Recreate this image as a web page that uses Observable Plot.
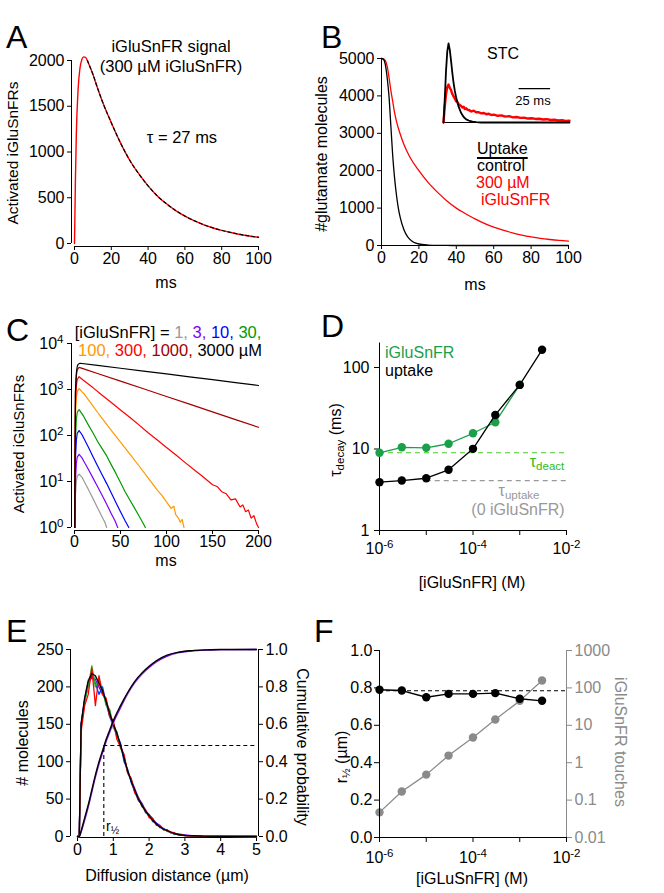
<!DOCTYPE html>
<html><head><meta charset="utf-8">
<script src="https://cdn.jsdelivr.net/npm/d3@7"></script>
<script src="https://cdn.jsdelivr.net/npm/@observablehq/plot@0.6"></script>
<style>
body{margin:0;background:#fff;}
#fig{position:relative;width:664px;height:893px;font-family:"Liberation Sans",Arial,Helvetica,sans-serif;color:#000;overflow:hidden;background:#fff}
#fig svg{position:absolute;overflow:visible}
.t{position:absolute;white-space:nowrap;line-height:1;}
.t sub{font-size:0.72em;vertical-align:-0.3em;line-height:0}
</style></head><body><div id="fig"></div>
<script>
// ---------- Panel A ----------
const aTime   = [0,0.5,1,2,3,4,5,6,7,8,10,12,15,20,25,30,35,40,45,50,55,60,65,70,75,80,85,90,95,100];
const aSignal = [0,700,1200,1700,1920,2010,2040,2035,2000,1950,1850,1730,1560,1320,1100,910,760,630,520,434,360,300,250,207,172,143,120,99,82,68];
const aFitTime = [7,8,10,12,15,20,25,30,35,40,45,50,55,60,65,70,75,80,85,90,95,100];
const aFit     = [2000,1950,1850,1730,1560,1320,1100,910,760,630,520,434,360,300,250,207,172,143,120,99,82,68];
const aXTicks = [0,20,40,60,80,100];
const aYTicks = [0,500,1000,1500,2000];

// ---------- Panel B ----------
const bCtrlTime = [0,1,2,3,4,5,6,7,8,9,10,12,14,16,18,20,25,30,35,40,50,60,70,80,90,100];
const bControl  = [5000,4980,4850,4500,4000,3200,2400,1800,1350,1000,750,420,230,130,70,40,12,3,1,0,0,0,0,0,0,0];
const bIgluTime = [0,1,2,3,4,5,6,7,8,10,12,15,20,25,30,35,40,45,50,55,60,65,70,75,80,85,90,95,100];
const bIglu     = [5000,4990,4950,4800,4500,4150,3850,3550,3320,2980,2700,2380,2000,1680,1420,1190,1000,850,710,590,490,410,340,280,230,190,160,135,115];
const bXTicks = [0,20,40,60,80,100];
const bYTicks = [0,1000,2000,3000,4000,5000];
// inset STC (normalised)
const stcCtrlTime = [0,1,2,3,4,5,6,7,8,9,10,12,14,16,18,20,23,26,30,100];
const stcControl  = [0,0.3,0.65,0.9,1.0,0.92,0.78,0.63,0.5,0.4,0.32,0.2,0.12,0.07,0.04,0.025,0.012,0.005,0,0];
const stcIgluTime = [0,1,2,3,4,5,6,7,8,9,10,11,12,13,14,15,16,17,18,19,20,22,24,26,28,30,32,34,36,38,40,43,46,49,52,55,58,61,64,67,70,73,76,79,82,85,88,91,94,97,100];
const stcIglu     = [0,0.2,0.36,0.45,0.48,0.44,0.41,0.36,0.33,0.30,0.27,0.26,0.23,0.22,0.21,0.19,0.20,0.17,0.18,0.16,0.16,0.14,0.15,0.13,0.13,0.115,0.12,0.105,0.11,0.095,0.1,0.085,0.09,0.075,0.08,0.065,0.07,0.058,0.062,0.05,0.054,0.045,0.048,0.038,0.042,0.032,0.035,0.026,0.028,0.02,0.022];
const stcScaleBar = {start: 60, length: 25, level: 0.43}; // 25 ms

// ---------- Panel C ----------
const c1t = [0.3,1,2,3,5,8,10,15,20,25,30,33,35];
const c1v = [1,5,10,13,14.5,12.5,10.5,6.8,4.3,2.7,1.7,1.3,1.0];
const c3t = [0.3,1,2,3,5,8,10,15,20,25,30,35,40,44,47];
const c3v = [1,10,25,34,39,33,28,18.5,12,7.8,5.0,3.2,2.0,1.4,1.0];
const c10t = [0.3,1,2,3,5,8,10,15,20,25,30,35,40,45,50,55,59];
const c10v = [1,30,80,112,128,105,88,56,35,22,14,9,5.6,3.5,2.2,1.4,1.0];
const c30t = [0.3,1,2,3,5,8,10,15,20,25,30,35,40,45,50,55,60,65,70,74,77];
const c30v = [1,80,230,320,365,300,260,170,115,75,52,36,23,15,9.5,6,4,2.7,1.8,1.3,1.0];
const c100t = [0.3,1,2,3,5,8,10,15,20,25,30,40,50,60,70,80,90,95,100,105,108,110,113,115,117,119];
const c100v = [1,250,650,900,1050,900,820,600,440,320,235,130,72,40,22,12,6.5,5,3.6,2.6,2.9,1.9,1.6,1.3,1.5,1.0];
const c300t = [0.3,1,2,3,5,10,20,30,40,50,60,70,80,90,100,110,120,130,140,150,155,160,165,170,175,180,183,186,189,192,195,198,200];
const c300v = [1,450,1200,1650,1900,1570,1100,750,520,360,250,170,115,80,55,38,26,18,12.5,8.5,7.8,6,5.4,4,4.2,2.8,3.1,2.2,2.4,1.6,1.8,1.2,1.0];
const c1000t = [0.3,1,2,3,5,10,25,50,75,100,125,150,175,200];
const c1000v = [1,800,2000,2700,3030,2800,2230,1520,1040,705,480,327,222,151];
const c3000t = [0.3,1,2,3,4,6,25,50,75,100,125,150,175,200];
const c3000v = [1,900,2300,3200,3550,3720,3340,2900,2510,2180,1890,1640,1410,1220];
const cXTicks = [0,50,100,150,200];
const cYTicks = [1,10,100,1000,10000];

// ---------- Panel D ----------
const dConc     = [1e-6,3e-6,1e-5,3e-5,1e-4,3e-4,1e-3,3e-3];
const dUptake   = [3.92,4.10,4.38,5.56,10.05,26.2,61.2,165];
const dConcIglu = [1e-6,3e-6,1e-5,3e-5,1e-4,3e-4,1e-3];
const dIglu     = [8.98,10.5,10.35,11.6,15.6,21.3,61.4];
const dTauDeact = 9.0;
const dTauUptake = 4.1;
const dXTicks = [1e-6,1e-5,1e-4,1e-3,1e-2];
const dYTicks = [1,10,100];

// ---------- Panel E ----------
const eX      = [0,0.05,0.1,0.2,0.3,0.4,0.5,0.6,0.7,0.8,0.9,1.0,1.1,1.2,1.3,1.4,1.5,1.6,1.7,1.8,1.9,2.0,2.1,2.2,2.3,2.4,2.5,2.6,2.7,2.8,2.9,3.0,3.2,3.5,4.0,4.5,5.0];
const eGray   = [0,0,152,186,210,216,212,207,192,182,168,150,140,122,106,88,76,63,50,45,33,30,22,17,14,10,8,6,4,3,2,1.5,1,0.5,0.3,0.2,0];
const ePurple = [0,0,150,183,206,212,210,200,190,182,162,152,136,124,104,86,75,64,52,44,35,29,24,18,15,10,9,6,5,3,2,2,1,0.5,0.3,0.2,0];
const eBlue   = [0,0,148,182,205,215,205,190,200,178,160,148,135,125,100,90,72,60,48,43,32,28,20,18,12,11,7,6,3,3,1.5,1.5,0.5,0.5,0.3,0,0];
const eGreen  = [0,0,145,180,200,228,200,210,195,175,170,145,140,118,108,85,76,60,52,40,35,27,23,16,14,9,8,5,4,3,2,1,1,0.5,0.2,0.2,0];
const eRed    = [0,0,140,175,190,225,175,215,190,185,160,155,130,120,110,85,78,58,52,40,36,25,24,15,14,9,9,5,5,2,3,1,1,0.5,0.5,0,0];
const eBlack  = [0,0,150,185,208,218,215,205,195,180,165,150,138,122,105,88,74,62,50,42,34,28,22,17,13,10,8,6,4,3,2,1.5,1,0.5,0.3,0.2,0];
const eCdfX      = [0,0.05,0.1,0.2,0.3,0.4,0.5,0.6,0.7,0.8,0.9,1.0,1.2,1.4,1.6,1.8,2.0,2.2,2.5,2.8,3.2,3.6,4,5];
const eCdfGray   = [0,0,0.022,0.085,0.155,0.235,0.315,0.385,0.445,0.505,0.555,0.605,0.685,0.76,0.82,0.866,0.902,0.932,0.963,0.981,0.992,0.997,0.999,1];
const eCdfPurple = [0,0,0.025,0.09,0.16,0.24,0.32,0.39,0.45,0.51,0.56,0.61,0.69,0.765,0.825,0.87,0.905,0.935,0.965,0.983,0.993,0.997,0.999,1];
const eCdfBlack  = [0,0,0.03,0.10,0.17,0.25,0.33,0.40,0.46,0.52,0.57,0.62,0.70,0.77,0.83,0.875,0.91,0.94,0.97,0.985,0.994,0.998,1,1];
const eRHalf = 0.735, eHalfP = 0.487;
const eXTicks = [0,1,2,3,4,5];
const eYTicks = [0,50,100,150,200,250];
const eY2Ticks = [0,0.2,0.4,0.6,0.8,1.0];

// ---------- Panel F ----------
const fConc    = [1e-6,3e-6,1e-5,3e-5,1e-4,3e-4,1e-3,3e-3];
const fRHalf   = [0.790,0.786,0.750,0.768,0.768,0.772,0.742,0.731];
const fTouches = [0.047,0.17,0.48,1.55,4.7,14.3,45,158];
const fRef = 0.785;
const fXTicks = [1e-6,1e-5,1e-4,1e-3,1e-2];
const fYTicks = [0,0.2,0.4,0.6,0.8,1.0];
const fY2Ticks = [0.01,0.1,1,10,100,1000];

// ================= drawing =================
const FONT = '"Liberation Sans", Arial, Helvetica, sans-serif';
const fig = document.getElementById("fig");
const zip = (xs, ys) => xs.map((x, i) => ({x, y: ys[i]}));
const SVGNS = "http://www.w3.org/2000/svg";
const plain = d => String(d);
function supers(svg) {
  svg.querySelectorAll("text").forEach(t => {
    const m = /^10\^(-?\d+)$/.exec(t.textContent);
    if (m) {
      t.textContent = "10";
      const ts = document.createElementNS(SVGNS, "tspan");
      ts.setAttribute("dy", "-0.5em");
      ts.setAttribute("font-size", "0.72em");
      ts.textContent = m[1];
      t.appendChild(ts);
    }
  });
}
function place(svg, left, top) {
  svg.style.left = left + "px"; svg.style.top = top + "px";
  fig.appendChild(svg); supers(svg);
}
function base(w, h, [mL, mR, mT, mB]) {
  return {width: w, height: h, marginLeft: mL, marginRight: mR, marginTop: mT, marginBottom: mB,
    style: {fontFamily: FONT, fontSize: "16px", background: "transparent", color: "#000", overflow: "visible"}};
}
function txt(html, x, y, {size = 16, color = "#000", anchor = "middle", rotate = 0} = {}) {
  const d = document.createElement("div");
  d.className = "t"; d.innerHTML = html;
  d.style.left = x + "px"; d.style.top = y + "px";
  d.style.fontSize = size + "px"; d.style.color = color;
  const tx = anchor === "middle" ? "-50%" : anchor === "end" ? "-100%" : "0";
  d.style.transform = `translate(${tx},-50%)` + (rotate ? ` rotate(${rotate}deg)` : "");
  fig.appendChild(d);
  return d;
}
const pow10 = d => `10^${Math.round(Math.log10(d))}`;
const evenPow = d => { const e = Math.round(Math.log10(d)); return e % 2 === 0 ? `10^${e}` : ""; };

// ---- A ----
place(Plot.plot({...base(332, 300, [74, 74, 60, 57]),
  x: {domain: [0, 100]}, y: {domain: [0, 2000]},
  marks: [
    Plot.ruleX([0], {y1: 0, y2: 2000, dx: -3}),
    Plot.ruleY([0], {x1: 0, x2: 100, dy: 3}),
    Plot.axisY({ticks: aYTicks, tickFormat: plain, tickSize: 4, tickPadding: 3, dx: -3, label: null}),
    Plot.axisX({ticks: aXTicks, tickFormat: plain, tickSize: 4, tickPadding: 2, dy: 3, label: null}),
    Plot.line(zip(aTime, aSignal), {x: "x", y: "y", stroke: "#ff0000", strokeWidth: 1.4, curve: "monotone-x"}),
    Plot.line(zip(aFitTime, aFit), {x: "x", y: "y", stroke: "#000", strokeWidth: 1.2, strokeDasharray: "3,3", curve: "monotone-x"})
  ]}), 0, 0);
txt("A", 6, 37, {size: 32, anchor: "start"});
txt("iGluSnFR signal", 171, 46, {size: 16.5});
txt("(300 µM iGluSnFR)", 171, 66, {size: 16.5});
txt("τ = 27 ms", 182, 137, {size: 16.5});
txt("Activated iGluSnFRs", 13, 153, {size: 15.5, rotate: -90});
txt("ms", 166, 283, {size: 16});

// ---- B ----
place(Plot.plot({...base(332, 300, [49, 96, 58, 55]),
  x: {domain: [0, 100]}, y: {domain: [0, 5000]},
  marks: [
    Plot.ruleX([0], {y1: 0, y2: 5000}),
    Plot.ruleY([0], {x1: 0, x2: 100}),
    Plot.axisY({ticks: bYTicks, tickFormat: plain, tickSize: 4, tickPadding: 3, label: null}),
    Plot.axisX({ticks: bXTicks, tickFormat: plain, tickSize: 4, tickPadding: 2, label: null}),
    Plot.line(zip(bIgluTime, bIglu), {x: "x", y: "y", stroke: "#ff0000", strokeWidth: 1.3, curve: "monotone-x"}),
    Plot.line(zip(bCtrlTime, bControl), {x: "x", y: "y", stroke: "#000", strokeWidth: 1.3, curve: "monotone-x"})
  ]}), 332, 0);
place(Plot.plot({...base(140, 100, [3, 11, 13, 8]),
  x: {domain: [0, 100], axis: null}, y: {domain: [0, 1], axis: null},
  marks: [
    Plot.ruleY([0], {x1: 0, x2: 100, strokeWidth: 1}),
    Plot.line(zip(stcIgluTime, stcIglu), {x: "x", y: "y", stroke: "#ff0000", strokeWidth: 2.4}),
    Plot.line(zip(stcCtrlTime, stcControl), {x: "x", y: "y", stroke: "#000", strokeWidth: 1.8}),
    Plot.ruleY([stcScaleBar], {y: "level", x1: "start", x2: d => d.start + d.length, strokeWidth: 1.3})
  ]}), 440, 30);
txt("B", 321, 37, {size: 32, anchor: "start"});
txt("STC", 503, 54, {size: 16});
txt("25 ms", 533, 100, {size: 13});
const up = txt("Uptake", 477, 149, {size: 16, anchor: "start"});
up.style.textDecoration = "underline"; up.style.textDecorationThickness = "1.5px"; up.style.textUnderlineOffset = "3px";
txt("control", 477, 166, {size: 16, anchor: "start"});
txt("300 µM", 476, 183, {size: 16, anchor: "start", color: "#ff0000"});
txt("iGluSnFR", 481, 200, {size: 16, anchor: "start", color: "#ff0000"});
txt("#glutamate molecules", 322, 154, {size: 16, rotate: -90});
txt("ms", 475, 285, {size: 16});

// ---- C ----
const cSeries = [
  [c1t, c1v, "#999999"], [c3t, c3v, "#8000ff"], [c10t, c10v, "#0000ff"], [c30t, c30v, "#009900"],
  [c100t, c100v, "#ff9900"], [c300t, c300v, "#ff0000"], [c1000t, c1000v, "#a00000"], [c3000t, c3000v, "#000000"]
];
place(Plot.plot({...base(332, 300, [74, 74, 43, 73]),
  x: {domain: [0, 200]}, y: {type: "log", domain: [1, 10000]},
  marks: [
    Plot.ruleX([0], {y1: 1, y2: 10000, dx: -3}),
    Plot.ruleY([1], {x1: 0, x2: 200, dy: 3}),
    Plot.axisY({ticks: cYTicks, tickFormat: pow10, tickSize: 4, tickPadding: 4, dx: -3, label: null}),
    Plot.axisX({ticks: cXTicks, tickFormat: plain, tickSize: 4, tickPadding: 1, dy: 3, label: null}),
    ...cSeries.map(([t, v, c]) => Plot.line(zip(t, v), {x: "x", y: "y", stroke: c, strokeWidth: 1.2}))
  ]}), 0, 300);
txt("C", 6, 330, {size: 32, anchor: "start"});
txt('[iGluSnFR] = <span style="color:#999">1,</span> <span style="color:#8000ff">3,</span> <span style="color:#0000ff">10,</span> <span style="color:#009900">30,</span>', 168, 332, {size: 16.5});
txt('<span style="color:#ff9900">100,</span> <span style="color:#ff0000">300,</span> <span style="color:#a00000">1000,</span> 3000 µM', 170, 350, {size: 16.5});
txt("Activated iGluSnFRs", 18, 444, {size: 15, rotate: -90});
txt("ms", 166, 561, {size: 16});

// ---- D ----
place(Plot.plot({...base(332, 300, [47, 98, 42.5, 70]),
  x: {type: "log", domain: [1e-6, 1e-2]}, y: {type: "log", domain: [1, 200]},
  marks: [
    Plot.ruleX([1e-6], {y1: 1, y2: 200}),
    Plot.ruleY([1], {x1: 1e-6, x2: 1e-2}),
    Plot.axisY({ticks: dYTicks, tickFormat: plain, tickSize: 5, tickPadding: 5, label: null}),
    Plot.axisX({ticks: dXTicks, tickFormat: evenPow, tickSize: 5, tickPadding: 7, label: null}),
    Plot.ruleY([dTauDeact], {x1: 1e-6, x2: 1e-2, stroke: "#44cc22", strokeDasharray: "5,4", strokeWidth: 1.2}),
    Plot.ruleY([dTauUptake], {x1: 1e-5, x2: 1e-2, stroke: "#999", strokeDasharray: "5,4", strokeWidth: 1.2}),
    Plot.line(zip(dConcIglu, dIglu), {x: "x", y: "y", stroke: "#1a9f4a", strokeWidth: 1.3}),
    Plot.dot(zip(dConcIglu, dIglu), {x: "x", y: "y", fill: "#1a9f4a", r: 4.2}),
    Plot.line(zip(dConc, dUptake), {x: "x", y: "y", stroke: "#000", strokeWidth: 1.3}),
    Plot.dot(zip(dConc, dUptake), {x: "x", y: "y", fill: "#000", r: 4.2})
  ]}), 332, 300);
txt("D", 321, 326, {size: 32, anchor: "start"});
txt("iGluSnFR", 385, 353, {size: 16, anchor: "start", color: "#1a9f4a"});
txt("uptake", 385, 371, {size: 16, anchor: "start"});
txt("τ<sub>deact</sub>", 547, 462, {size: 16, color: "#33bb22"});
txt("τ<sub>uptake</sub>", 519, 491, {size: 16, color: "#999"});
txt("(0 iGluSnFR)", 518, 510, {size: 16, color: "#999"});
txt("τ<sub>decay</sub> (ms)", 336, 440, {size: 16, rotate: -90});
txt("[iGluSnFR] (M)", 472, 583, {size: 16});

// ---- E ----
const eHist = [[eGray, "#aaaaaa"], [ePurple, "#8000ff"], [eBlue, "#0033ff"], [eGreen, "#22aa22"], [eRed, "#ff0000"], [eBlack, "#000000"]];
place(Plot.plot({...base(332, 300, [77, 76, 56, 57]),
  x: {domain: [0, 5]}, y: {domain: [0, 250]},
  marks: [
    Plot.ruleX([0], {y1: 0, y2: 250, dx: -7}),
    Plot.ruleY([0], {x1: 0, x2: 5, dy: 1}),
    Plot.axisY({ticks: eYTicks, tickFormat: plain, tickSize: 4, tickPadding: 3, dx: -7, label: null}),
    Plot.axisX({ticks: eXTicks, tickFormat: plain, tickSize: 4, tickPadding: 2, dy: 1, label: null}),
    ...eHist.map(([v, c]) => Plot.line(zip(eX, v), {x: "x", y: "y", stroke: c, strokeWidth: 1.3}))
  ]}), 0, 593);
place(Plot.plot({...base(332, 300, [77, 76, 56, 57]),
  x: {domain: [0, 5], axis: null}, y: {domain: [0, 1]},
  marks: [
    Plot.ruleX([5], {y1: 0, y2: 1, dx: 2}),
    Plot.axisY({anchor: "right", ticks: eY2Ticks, tickFormat: d => d.toFixed(1), tickSize: 4, tickPadding: 3, dx: 2, label: null}),
    Plot.line(zip(eCdfX, eCdfGray), {x: "x", y: "y", stroke: "#b0a0c0", strokeWidth: 1.3, curve: "monotone-x"}),
    Plot.line(zip(eCdfX, eCdfPurple), {x: "x", y: "y", stroke: "#7a00e0", strokeWidth: 1.3, curve: "monotone-x"}),
    Plot.line(zip(eCdfX, eCdfBlack), {x: "x", y: "y", stroke: "#000", strokeWidth: 1.3, curve: "monotone-x"}),
    Plot.ruleY([eHalfP], {x1: eRHalf, x2: 5, strokeDasharray: "4,3", strokeWidth: 1.1}),
    Plot.ruleX([eRHalf], {y1: 0, y2: eHalfP, strokeDasharray: "4,3", strokeWidth: 1.1})
  ]}), 0, 593);
txt("E", 6, 631, {size: 32, anchor: "start"});
txt("r<sub>½</sub>", 106, 826, {size: 14, anchor: "start"});
txt("# molecules", 23, 743, {size: 16, rotate: -90});
txt("Cumulative probability", 302, 747, {size: 16, rotate: 90});
txt("Diffusion distance (µm)", 167, 876, {size: 16});

// ---- F ----
const GRAY = "#8a8a8a";
place(Plot.plot({...base(332, 300, [47, 98, 57, 56]),
  x: {type: "log", domain: [1e-6, 1e-2], axis: null}, y: {type: "log", domain: [0.01, 1000]},
  marks: [
    Plot.ruleX([1e-2], {y1: 0.01, y2: 1000, stroke: GRAY}),
    Plot.axisY({anchor: "right", ticks: fY2Ticks, tickFormat: plain, tickSize: 5, tickPadding: 3, color: GRAY, label: null}),
    Plot.line(zip(fConc, fTouches), {x: "x", y: "y", stroke: GRAY, strokeWidth: 1.3}),
    Plot.dot(zip(fConc, fTouches), {x: "x", y: "y", fill: GRAY, r: 4.2})
  ]}), 332, 593);
place(Plot.plot({...base(332, 300, [47, 98, 57, 56]),
  x: {type: "log", domain: [1e-6, 1e-2]}, y: {domain: [0, 1]},
  marks: [
    Plot.ruleX([1e-6], {y1: 0, y2: 1}),
    Plot.ruleY([0], {x1: 1e-6, x2: 1e-2}),
    Plot.axisY({ticks: fYTicks, tickFormat: d => d.toFixed(1), tickSize: 5, tickPadding: 2, label: null}),
    Plot.axisX({ticks: fXTicks, tickFormat: evenPow, tickSize: 5, tickPadding: 9, label: null}),
    Plot.ruleY([fRef], {x1: 1e-6, x2: 1e-2, strokeDasharray: "4,3", strokeWidth: 1.1}),
    Plot.line(zip(fConc, fRHalf), {x: "x", y: "y", stroke: "#000", strokeWidth: 1.3}),
    Plot.dot(zip(fConc, fRHalf), {x: "x", y: "y", fill: "#000", r: 4.2})
  ]}), 332, 593);
txt("F", 314, 631, {size: 32, anchor: "start"});
txt("r<sub>½</sub> (µm)", 342, 757, {size: 16, rotate: -90});
txt("iGluSnFR touches", 620, 742, {size: 16, rotate: 90, color: GRAY});
txt("[iGLuSnFR] (M)", 472, 879, {size: 16});
</script></body></html>
